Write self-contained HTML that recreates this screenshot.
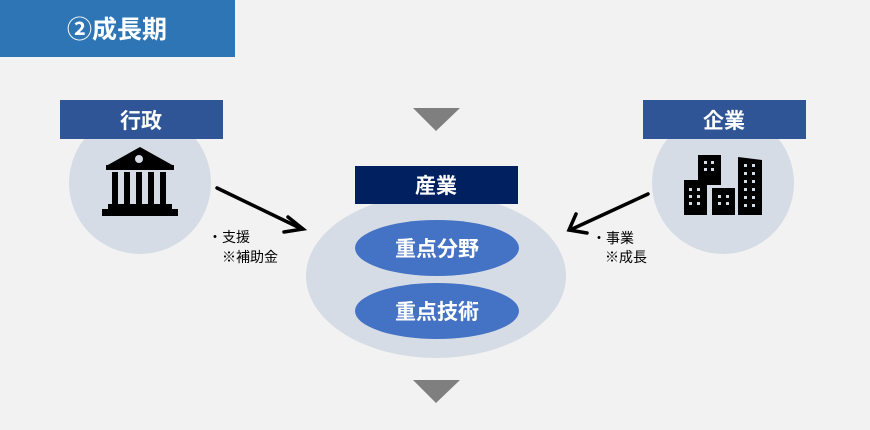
<!DOCTYPE html>
<html><head><meta charset="utf-8"><style>
body{margin:0;width:870px;height:430px;background:#f2f2f2;overflow:hidden;font-family:"Liberation Sans","Noto Sans CJK JP",sans-serif;}
</style></head><body>
<svg width="870" height="430" viewBox="0 0 870 430" xmlns="http://www.w3.org/2000/svg" style="position:absolute;left:0;top:0" font-family="Liberation Sans, Noto Sans CJK JP, sans-serif">
<rect x="0" y="0" width="235" height="57" fill="#2e75b6"/>
<text x="117" y="38" text-anchor="middle" font-size="25" font-weight="bold" fill="#fff">②成長期</text>

<circle cx="140" cy="183" r="71" fill="#d6dce5"/>
<rect x="60" y="100" width="163" height="39" fill="#2f5597"/>
<text x="141" y="128" text-anchor="middle" font-size="21" font-weight="bold" fill="#fff">行政</text>
<!-- bank -->
<polygon points="140,147 106,166 174,166" fill="#000"/>
<rect x="106" y="165" width="68" height="5" fill="#000"/>
<circle cx="139" cy="159" r="4" fill="#d6dce5"/>
<g fill="#000"><rect x="112" y="172" width="6" height="33"/><rect x="124" y="172" width="6" height="33"/><rect x="136" y="172" width="6" height="33"/><rect x="148" y="172" width="6" height="33"/><rect x="160" y="172" width="6" height="33"/></g>
<rect x="108" y="204" width="64" height="5" fill="#000"/>
<rect x="102" y="209" width="76" height="7" fill="#000"/>

<circle cx="723" cy="183" r="71" fill="#d6dce5"/>
<rect x="643" y="100" width="163" height="39" fill="#2f5597"/>
<text x="724" y="128" text-anchor="middle" font-size="21" font-weight="bold" fill="#fff">企業</text>
<!-- buildings -->
<g fill="#000">
<rect x="698" y="155" width="23" height="30"/>
<rect x="684" y="180" width="23" height="35"/>
<rect x="712" y="188" width="23" height="27"/>
<polygon points="738,157 762,160 762,215 738,215"/>
</g>
<g fill="#d6dce5">
<rect x="704" y="161" width="3" height="3"/><rect x="711" y="161" width="3" height="3"/><rect x="704" y="168" width="3" height="3"/><rect x="711" y="168" width="3" height="3"/>
<rect x="689" y="188" width="3" height="3"/><rect x="697" y="188" width="3" height="3"/><rect x="689" y="195" width="3" height="3"/><rect x="697" y="195" width="3" height="3"/><rect x="689" y="202" width="3" height="3"/><rect x="697" y="202" width="3" height="3"/>
<rect x="718" y="195" width="3" height="3"/><rect x="726" y="195" width="3" height="3"/><rect x="718" y="202" width="3" height="3"/><rect x="726" y="202" width="3" height="3"/>
<rect x="744" y="164" width="3" height="3"/><rect x="752" y="164" width="3" height="3"/><rect x="744" y="172" width="3" height="3"/><rect x="752" y="172" width="3" height="3"/><rect x="744" y="180" width="3" height="3"/><rect x="752" y="180" width="3" height="3"/><rect x="744" y="188" width="3" height="3"/><rect x="752" y="188" width="3" height="3"/><rect x="744" y="196" width="3" height="3"/><rect x="752" y="196" width="3" height="3"/><rect x="744" y="204" width="3" height="3"/><rect x="752" y="204" width="3" height="3"/>
</g>

<ellipse cx="436" cy="276" rx="130" ry="82" fill="#d6dce5"/>
<rect x="355" y="166" width="163" height="38" fill="#002060"/>
<text x="436" y="193" text-anchor="middle" font-size="21" font-weight="bold" fill="#fff">産業</text>
<ellipse cx="437" cy="248" rx="82" ry="28" fill="#4472c4"/>
<text x="437" y="256" text-anchor="middle" font-size="21" font-weight="bold" fill="#fff">重点分野</text>
<ellipse cx="437" cy="311" rx="82" ry="28" fill="#4472c4"/>
<text x="437" y="319" text-anchor="middle" font-size="21" font-weight="bold" fill="#fff">重点技術</text>

<polygon points="413,108 460,108 436,131" fill="#7f7f7f"/>
<polygon points="413,380 460,380 436,403" fill="#7f7f7f"/>

<g stroke="#000" stroke-width="3.5" fill="none" stroke-linecap="round">
<line x1="217" y1="188" x2="302" y2="229"/>
<polyline points="288,217 303,229 284,232"/>
<line x1="648" y1="194" x2="570" y2="230"/>
<polyline points="576,214 569,230 587,233"/>
</g>
<g font-size="14" fill="#000">
<text x="208" y="242">・支援</text>
<text x="222" y="262">※補助金</text>
<text x="592" y="243">・事業</text>
<text x="605" y="262">※成長</text>
</g>
</svg>
</body></html>
